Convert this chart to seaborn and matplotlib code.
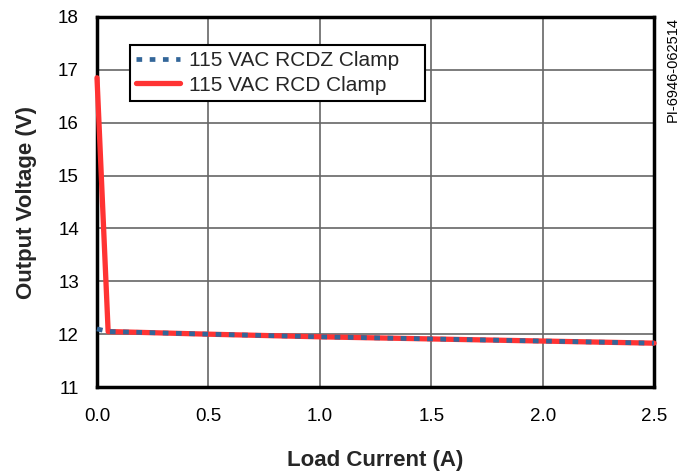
import matplotlib
matplotlib.use("Agg")
import matplotlib.pyplot as plt
import seaborn as sns
import pandas as pd

sns.set_theme(style="white")
plt.rcParams['font.family'] = ['Liberation Sans', 'DejaVu Sans']

rcdz_x = [0.0, 0.05, 0.5, 1.0, 1.5, 2.0, 2.5]
rcdz_y = [12.10, 12.05, 12.00, 11.95, 11.91, 11.87, 11.83]
rcd_x = [0.0, 0.05, 0.5, 1.0, 1.5, 2.0, 2.5]
rcd_y = [16.85, 12.05, 12.00, 11.95, 11.91, 11.87, 11.83]

df_rcdz = pd.DataFrame({"x": rcdz_x, "y": rcdz_y})
df_rcd = pd.DataFrame({"x": rcd_x, "y": rcd_y})

fig = plt.figure(figsize=(6.86, 4.72), dpi=100)
ax = fig.add_axes([0.1414, 0.18, 0.812, 0.784])

sns.lineplot(data=df_rcd, x="x", y="y", ax=ax, color="#ff3333", linewidth=3.8,
             label="115 VAC RCD Clamp", zorder=3, clip_on=False)
sns.lineplot(data=df_rcdz, x="x", y="y", ax=ax, color="#336699", linewidth=3.4,
             linestyle=(0, (1.2, 1.6)), label="115 VAC RCDZ Clamp", zorder=4,
             clip_on=False)

ax.set_xlim(0, 2.5)
ax.set_ylim(11, 18)
ax.set_xticks([0, 0.5, 1.0, 1.5, 2.0, 2.5])
ax.set_xticklabels(["0.0", "0.5", "1.0", "1.5", "2.0", "2.5"])
ax.set_yticks(range(11, 19))
ax.tick_params(axis="both", labelsize=13.5, length=0, colors="black")
ax.tick_params(axis="y", pad=13)
ax.tick_params(axis="x", pad=15)
ax.grid(True, color="#666666", linewidth=1.2)
for s in ax.spines.values():
    s.set_color("black")
    s.set_linewidth(2.5)

ax.set_xlabel("Load Current (A)", fontsize=16, fontweight="bold", labelpad=18)
ax.set_ylabel("Output Voltage (V)", fontsize=16, fontweight="bold", labelpad=15)

handles, labels = ax.get_legend_handles_labels()
leg = ax.legend(handles[::-1], labels[::-1], loc="upper left",
                bbox_to_anchor=(0.059, 0.924 - 0.14, 0.5296, 0.14), mode="expand",
                fontsize=15, frameon=True,
                fancybox=False, edgecolor="black", framealpha=1,
                handlelength=2.1, borderpad=0.3, labelspacing=0.25,
                handletextpad=0.45, borderaxespad=0)
leg.get_frame().set_linewidth(1.5)

fig.text(0.98, 0.963, "PI-6946-062514", rotation=90, ha="center", va="top",
         fontsize=10.5, color="black")

fig.savefig("out.png", dpi=100)
